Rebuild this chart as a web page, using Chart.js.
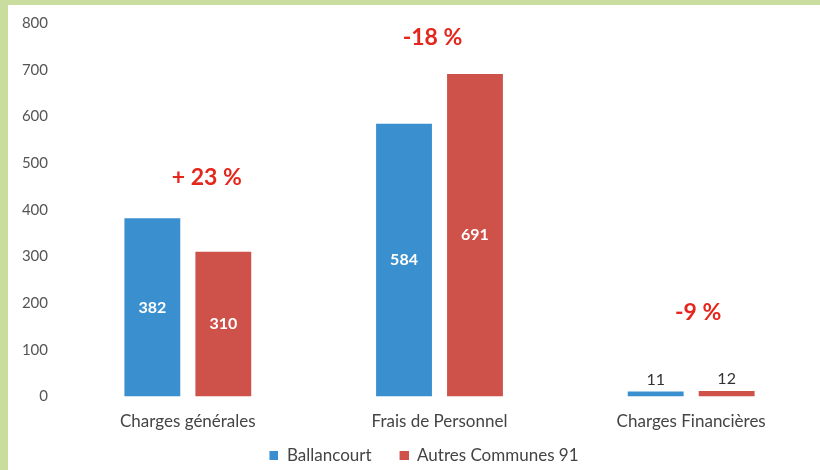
<!DOCTYPE html>
<html>
<head>
<meta charset="utf-8">
<script src="https://cdn.jsdelivr.net/npm/chart.js@4.4.1/dist/chart.umd.min.js"></script>
<style>
  html, body { margin: 0; padding: 0; background: #c9dd9f; }
  #wrap { position: absolute; left: 8px; top: 5px; width: 812px; height: 465px; background: #fff; }
</style>
</head>
<body>
<div id="wrap"><canvas id="myChart" width="812" height="465"></canvas></div>
<script>
const categories = ['Charges générales', 'Frais de Personnel', 'Charges Financières'];
const ballancourt = [382, 584, 11];
const autresCommunes = [310, 691, 12];
const ecarts = ['+ 23 %', '-18 %', '-9 %'];
const ecartsNiveau = [468, 768, 180];
const yTicks = [0, 100, 200, 300, 400, 500, 600, 700, 800];

const blue = 'rgb(58, 143, 207)';
const red = 'rgb(207, 82, 74)';

// legend marker: small square with empty room on its left (gap between items)
function marker(color) {
    const c = document.createElement('canvas');
    c.width = 37;
    c.height = 9;
    const g = c.getContext('2d');
    g.fillStyle = color;
    g.fillRect(28, 0, 9, 9);
    return c;
}

const valueLabels = {
    id: 'valueLabels',
    afterDatasetsDraw(chart) {
        const ctx = chart.ctx;
        ctx.save();
        ctx.textAlign = 'center';
        ctx.textBaseline = 'middle';
        chart.data.datasets.forEach((ds, i) => {
            chart.getDatasetMeta(i).data.forEach((bar, j) => {
                const v = ds.data[j];
                const h = bar.base - bar.y;
                if (h > 30) {
                    ctx.fillStyle = '#fff';
                    ctx.font = 'bold 16px Lato';
                    ctx.fillText(v, bar.x, (bar.y + bar.base) / 2);
                } else {
                    ctx.fillStyle = '#333';
                    ctx.font = '16px Lato';
                    ctx.fillText(v, bar.x, bar.y - 12);
                }
            });
        });
        // percentage gaps
        const x = chart.scales.x, y = chart.scales.y;
        ctx.fillStyle = '#e5261c';
        ctx.font = 'bold 23px Lato';
        const dx = [19, -7, 7];
        ecarts.forEach((t, j) => {
            ctx.fillText(t, x.getPixelForValue(j) + dx[j], y.getPixelForValue(ecartsNiveau[j]));
        });
        ctx.restore();
    }
};

const ctx = document.getElementById('myChart').getContext('2d');
const myChart = new Chart(ctx, {
    type: 'bar',
    data: {
        labels: categories,
        datasets: [{
            label: 'Ballancourt',
            data: ballancourt,
            backgroundColor: blue,
            categoryPercentage: 0.564,
            barPercentage: 0.787
        }, {
            label: 'Autres Communes 91',
            data: autresCommunes,
            backgroundColor: red,
            categoryPercentage: 0.564,
            barPercentage: 0.787
        }]
    },
    options: {
        responsive: false,
        animation: false,
        layout: { padding: { top: 18, right: 3, left: -5, bottom: -4 } },
        plugins: {
            tooltip: { enabled: false },
            legend: {
                position: 'bottom',
                labels: {
                    usePointStyle: true,
                    pointStyleWidth: 37,
                    boxHeight: 9,
                    color: '#444',
                    font: { family: 'Lato', size: 17 },
                    padding: 0,
                    generateLabels: chart => {
                        const items = Chart.defaults.plugins.legend.labels.generateLabels(chart);
                        items.forEach((it, i) => { it.pointStyle = marker([blue, red][i]); });
                        return items;
                    }
                }
            }
        },
        scales: {
            x: {
                grid: { display: false, drawTicks: false },
                border: { display: false },
                ticks: { color: '#444', font: { family: 'Lato', size: 17 }, padding: 15 }
            },
            y: {
                min: 0,
                max: 800,
                afterBuildTicks: s => { s.ticks = yTicks.map(v => ({ value: v })); },
                afterFit: s => { s.width = 59; },
                grid: { display: false },
                border: { display: false },
                ticks: { color: '#555', font: { family: 'Lato', size: 15 }, padding: 6 }
            }
        }
    },
    plugins: [valueLabels]
});
</script>
</body>
</html>
